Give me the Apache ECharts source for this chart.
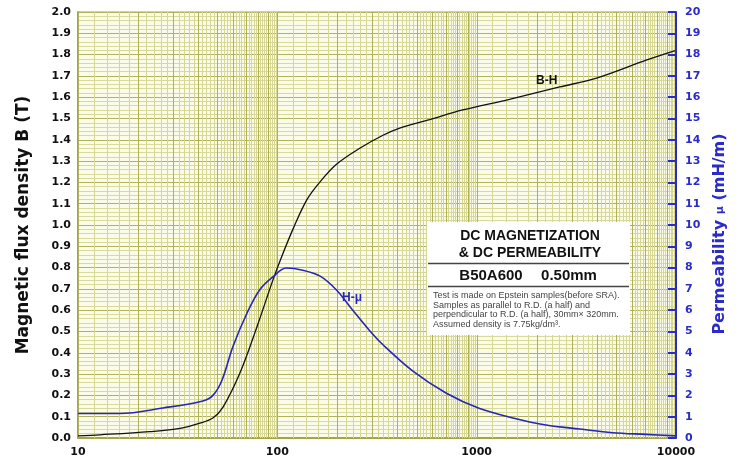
<!DOCTYPE html>
<html>
<head>
<meta charset="utf-8">
<script src="https://cdn.jsdelivr.net/npm/echarts@6/dist/echarts.min.js"></script>
<style>html,body{margin:0;padding:0;background:#fff}#c{width:739px;height:468px}</style>
</head>
<body>
<div id="c"></div>
<script>
// Magnetic field strength H (A/m) vs flux density B (T)
const bhH = [10, 12.9, 22.9, 32.5, 40.9, 47.5, 53.4, 64.9, 78.9, 94.9, 105, 121, 141, 163, 198, 259, 337, 411, 582, 850, 1460, 2608, 4000, 7140, 10000];
const bhB = [0.01, 0.015, 0.03, 0.045, 0.07, 0.094, 0.145, 0.305, 0.52, 0.74, 0.85, 0.99, 1.12, 1.2, 1.285, 1.36, 1.42, 1.455, 1.495, 1.54, 1.59, 1.648, 1.69, 1.775, 1.82];
// Magnetic field strength H (A/m) vs permeability mu (mH/m)
const muH = [10, 16.2, 26.7, 42.3, 47.5, 52.7, 59.9, 70.5, 81.5, 94.9, 111, 134, 164, 198, 239, 290, 337, 477, 705, 1035, 1520, 2225, 3300, 4800, 7100, 10000];
const muV = [1.15, 1.15, 1.41, 1.74, 2.0, 2.7, 4.3, 5.87, 6.95, 7.56, 7.98, 7.88, 7.6, 6.95, 6.0, 5.05, 4.4, 3.15, 2.1, 1.38, 0.94, 0.61, 0.42, 0.25, 0.17, 0.1];
const xTicks = [10, 100, 1000, 10000];
const boxTitle = ['DC MAGNETIZATION', '& DC PERMEABILITY'];
const boxGrade = ['B50A600', '0.50mm'];
const boxNotes = [
  'Test is made on Epstein samples(before SRA).',
  'Samples as parallel to R.D. (a half) and',
  'perpendicular to R.D. (a half), 30mm\u00d7 320mm.',
  'Assumed density is 7.75kg/dm\u00b3.'
];

const FONT = 'Liberation Sans, Arial, sans-serif';
const WIDE = 'DejaVu Sans, sans-serif';
const BLUE = '#2b2bc8';
const minorV = [], majorV = [];
[10, 100, 1000].forEach(d => {
  for (let k = 10; k <= 100; k += 2) {
    const v = k * d / 10;
    if (k % 10 === 0) majorV.push([v]); else minorV.push([v]);
  }
});
function vline(color, width) {
  return function (params, api) {
    const p0 = api.coord([api.value(0), 0]);
    const p1 = api.coord([api.value(0), 2]);
    const x = Math.round(p0[0]) + 0.5;
    return { type: 'line', shape: { x1: x, y1: p0[1], x2: x, y2: p1[1] }, style: { stroke: color, lineWidth: width } };
  };
}

const chart = echarts.init(document.getElementById('c'));
chart.setOption({
  animation: false,
  backgroundColor: '#ffffff',
  grid: { left: 78, right: 63, top: 12, bottom: 30, show: true, backgroundColor: '#fbfbe9', borderColor: '#a4a448', borderWidth: 1 },
  xAxis: {
    type: 'log', logBase: 10, min: 10, max: 10000,
    axisLine: { show: true, lineStyle: { color: '#a4a448', width: 2 } },
    axisTick: { show: false },
    splitLine: { show: false },
    axisLabel: { color: '#111', fontWeight: 'bold', fontSize: 11, fontFamily: WIDE, margin: 9,
      formatter: v => xTicks.indexOf(Math.round(v)) >= 0 ? String(Math.round(v)) : '' }
  },
  yAxis: [{
    type: 'value', min: 0, max: 2, interval: 0.1, position: 'left',
    name: 'Magnetic flux density B (T)', nameLocation: 'middle', nameRotate: 90, nameGap: 46,
    nameTextStyle: { color: '#111', fontWeight: 'bold', fontSize: 17, fontFamily: WIDE },
    axisLine: { show: true, lineStyle: { color: '#a4a448', width: 2 } },
    axisTick: { show: false },
    axisLabel: { color: '#111', fontWeight: 'bold', fontSize: 11, fontFamily: WIDE, margin: 7, formatter: v => v.toFixed(1) },
    splitLine: { show: true, lineStyle: { color: '#b2b25a', width: 1 } },
    minorTick: { show: false, splitNumber: 5 },
    minorSplitLine: { show: true, lineStyle: { color: '#d9d99c', width: 1 } }
  }, {
    type: 'value', min: 0, max: 20, interval: 1, position: 'right', z: 10,
    name: 'Permeability {s|\u03bc} (mH/m)', nameLocation: 'middle', nameRotate: 90, nameGap: 36,
    nameTextStyle: { color: BLUE, fontWeight: 'bold', fontSize: 16, fontFamily: WIDE, padding: [0, 18, 0, 0],
      rich: { s: { color: BLUE, fontSize: 11, fontFamily: WIDE, fontWeight: 'bold' } } },
    axisLine: { show: true, lineStyle: { color: BLUE, width: 2 } },
    axisTick: { show: true, inside: true, length: 8, lineStyle: { color: BLUE, width: 2 } },
    axisLabel: { color: BLUE, fontWeight: 'bold', fontSize: 11, fontFamily: WIDE, margin: 9 },
    splitLine: { show: false }
  }],
  series: [
    { type: 'custom', silent: true, z: 1, data: minorV, renderItem: vline('#d6d695', 1), encode: { x: 0 } },
    { type: 'custom', silent: true, z: 1, data: majorV, renderItem: vline('#b0b058', 1), encode: { x: 0 } },
    {
      name: 'B-H', type: 'line', yAxisIndex: 0, z: 5, smooth: 0.35, showSymbol: false,
      data: bhH.map((h, i) => [h, bhB[i]]),
      lineStyle: { color: '#111', width: 1.3 }
    },
    {
      name: 'H-\u03bc', type: 'line', yAxisIndex: 1, z: 5, smooth: 0.35, showSymbol: false,
      data: muH.map((h, i) => [h, muV[i]]),
      lineStyle: { color: '#2727b5', width: 1.6 }
    }
  ],
  graphic: [
    { type: 'text', z: 50, left: 536, top: 75, style: { text: 'B-H', fill: '#111', font: 'bold 12px ' + FONT } },
    { type: 'text', z: 50, left: 342, top: 292, style: { text: 'H-\u03bc', fill: '#2727b5', font: 'bold 12px ' + FONT } },
    { type: 'rect', z: 50, shape: { x: 427, y: 222, width: 203, height: 113 }, style: { fill: '#ffffff' } },
    { type: 'text', z: 51, x: 530, y: 236, style: { text: boxTitle[0], fill: '#111', font: 'bold 14px ' + FONT, align: 'center', verticalAlign: 'middle' } },
    { type: 'text', z: 51, x: 530, y: 253, style: { text: boxTitle[1], fill: '#111', font: 'bold 14px ' + FONT, align: 'center', verticalAlign: 'middle' } },
    { type: 'line', z: 51, shape: { x1: 428, y1: 263.5, x2: 629, y2: 263.5 }, style: { stroke: '#444', lineWidth: 1.5 } },
    { type: 'text', z: 51, x: 491, y: 276, style: { text: boxGrade[0], fill: '#111', font: 'bold 15px ' + FONT, align: 'center', verticalAlign: 'middle' } },
    { type: 'text', z: 51, x: 569, y: 276, style: { text: boxGrade[1], fill: '#111', font: 'bold 15px ' + FONT, align: 'center', verticalAlign: 'middle' } },
    { type: 'line', z: 51, shape: { x1: 428, y1: 286.5, x2: 629, y2: 286.5 }, style: { stroke: '#444', lineWidth: 1.5 } },
    { type: 'text', z: 51, x: 433, y: 296, style: { text: boxNotes[0], fill: '#444', font: '9px ' + FONT, verticalAlign: 'middle' } },
    { type: 'text', z: 51, x: 433, y: 305.5, style: { text: boxNotes[1], fill: '#444', font: '9px ' + FONT, verticalAlign: 'middle' } },
    { type: 'text', z: 51, x: 433, y: 315, style: { text: boxNotes[2], fill: '#444', font: '9px ' + FONT, verticalAlign: 'middle' } },
    { type: 'text', z: 51, x: 433, y: 324.5, style: { text: boxNotes[3], fill: '#444', font: '9px ' + FONT, verticalAlign: 'middle' } }
  ]
});
</script>
</body>
</html>
